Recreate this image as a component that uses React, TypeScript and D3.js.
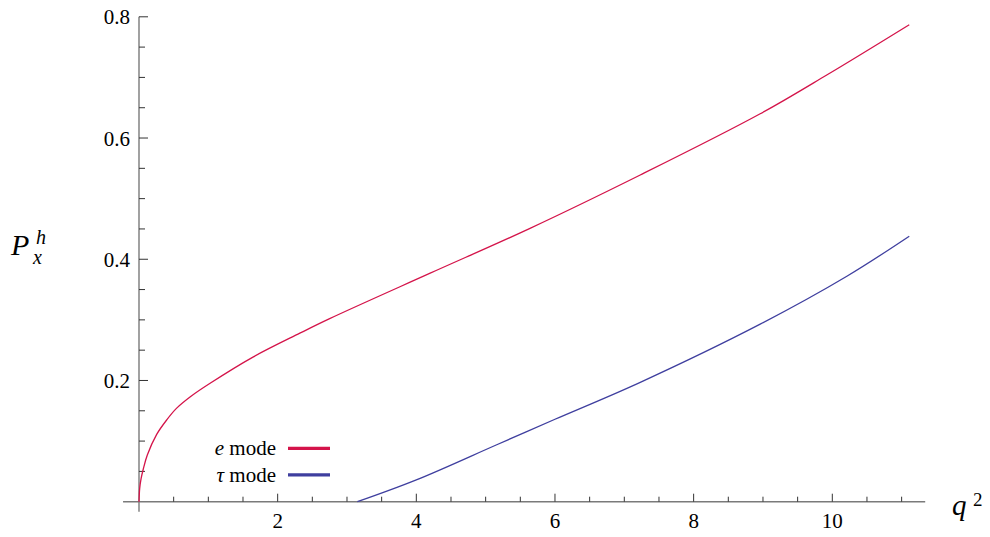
import * as d3 from 'd3';
import React, { useEffect, useRef } from 'react';

// e mode curve
const eX = [0, 0.01, 0.03, 0.062, 0.12, 0.255, 0.4, 0.54, 0.75, 1.02, 1.65, 2.32, 2.75, 4.2, 5.64, 7.23, 8.96, 9.92, 11.11];
const eY = [0, 0.022, 0.038, 0.054, 0.077, 0.111, 0.135, 0.154, 0.174, 0.195, 0.239, 0.278, 0.302, 0.377, 0.451, 0.539, 0.64, 0.704, 0.787];

// tau mode curve
const tauX = [3.15, 4.0, 5.16, 6.0, 7.23, 8.96, 10.21, 11.11];
const tauY = [0, 0.036, 0.094, 0.136, 0.197, 0.293, 0.372, 0.438];

const xTicks = [2, 4, 6, 8, 10];
const yTicks = [0.2, 0.4, 0.6, 0.8];
const legendNames = ['e', 'τ'];

const red = '#d4144a';
const blue = '#3f3f9f';

export default function App() {
  const ref = useRef(null);

  useEffect(() => {
    drawChart();
  }, []);

  function drawChart() {
    const svg = d3.select(ref.current);
    svg.selectAll('*').remove();

    const x = d3.scaleLinear().domain([0, 10]).range([139, 832.3]);
    const y = d3.scaleLinear().domain([0, 0.8]).range([501.7, 16.8]);
    const font = '"Liberation Serif", "Times New Roman", Times, "DejaVu Serif", serif';

    // minor ticks
    const xMinor = d3.range(0.5, 11.01, 0.5).filter(v => Math.abs(v % 2) > 0.01);
    const yMinor = d3.range(0.05, 0.801, 0.05).filter(v => Math.abs(Math.round(v * 100) % 20) > 0.5);

    const g = svg.append('g').attr('font-family', font);

    // axes lines
    g.append('line')
      .attr('x1', x(-0.23)).attr('x2', x(11.34))
      .attr('y1', y(0)).attr('y2', y(0))
      .attr('stroke', '#7a7a7a').attr('stroke-width', 1.4);
    g.append('line')
      .attr('x1', x(0)).attr('x2', x(0))
      .attr('y1', y(0.8)).attr('y2', y(-0.0165))
      .attr('stroke', '#7a7a7a').attr('stroke-width', 1.4);

    // x ticks
    g.selectAll('.xmaj').data(xTicks).enter().append('line')
      .attr('x1', d => x(d)).attr('x2', d => x(d))
      .attr('y1', y(0)).attr('y2', y(0) - 8)
      .attr('stroke', '#333').attr('stroke-width', 1);
    g.selectAll('.xmin').data(xMinor).enter().append('line')
      .attr('x1', d => x(d)).attr('x2', d => x(d))
      .attr('y1', y(0)).attr('y2', y(0) - 5)
      .attr('stroke', '#333').attr('stroke-width', 1);
    g.selectAll('.xlab').data(xTicks).enter().append('text')
      .attr('x', d => x(d)).attr('y', 528)
      .attr('text-anchor', 'middle')
      .attr('font-size', 21)
      .text(d => d);

    // y ticks
    g.selectAll('.ymaj').data(yTicks).enter().append('line')
      .attr('x1', x(0)).attr('x2', x(0) + 9)
      .attr('y1', d => y(d)).attr('y2', d => y(d))
      .attr('stroke', '#333').attr('stroke-width', 1);
    g.selectAll('.ymin').data(yMinor).enter().append('line')
      .attr('x1', x(0)).attr('x2', x(0) + 6)
      .attr('y1', d => y(d)).attr('y2', d => y(d))
      .attr('stroke', '#333').attr('stroke-width', 1);
    g.selectAll('.ylab').data(yTicks).enter().append('text')
      .attr('x', 130).attr('y', d => y(d) + 7.5)
      .attr('text-anchor', 'end')
      .attr('font-size', 21)
      .text(d => d3.format('.1f')(d));

    // curves
    const line = d3.line<number[]>()
      .x(d => x(d[0]))
      .y(d => y(d[1]))
      .curve(d3.curveCatmullRom.alpha(0.5));

    g.append('path')
      .datum(tauX.map((v, i) => [v, tauY[i]]))
      .attr('d', line)
      .attr('fill', 'none').attr('stroke', blue).attr('stroke-width', 1.3);
    g.append('path')
      .datum(eX.map((v, i) => [v, eY[i]]))
      .attr('d', line)
      .attr('fill', 'none').attr('stroke', red).attr('stroke-width', 1.3);

    // legend
    const colors = [red, blue];
    const leg = g.selectAll('.leg').data(legendNames).enter().append('g')
      .attr('transform', (d, i) => 'translate(0,' + (448.3 + i * 26.5) + ')');
    leg.append('line')
      .attr('x1', 288).attr('x2', 330)
      .attr('stroke', (d, i) => colors[i]).attr('stroke-width', 3.2);
    const lt = leg.append('text')
      .attr('x', 276).attr('y', 7)
      .attr('text-anchor', 'end')
      .attr('font-size', 21);
    lt.append('tspan').attr('font-style', 'italic').text(d => d);
    lt.append('tspan').text(' mode');

    // y label
    g.append('text').attr('x', 11).attr('y', 255)
      .attr('font-style', 'italic').attr('font-size', 30).text('P');
    g.append('text').attr('x', 36).attr('y', 244)
      .attr('font-style', 'italic').attr('font-size', 20).text('h');
    g.append('text').attr('x', 33).attr('y', 264)
      .attr('font-style', 'italic').attr('font-size', 20).text('x');

    // x label
    g.append('text').attr('x', 952).attr('y', 515)
      .attr('font-style', 'italic').attr('font-size', 29).text('q');
    g.append('text').attr('x', 973).attr('y', 506)
      .attr('font-size', 19).text('2');
  }

  return (
    <svg ref={ref} width={990} height={537}
      style={{ position: 'absolute', left: 0, top: 0, background: '#fff' }} />
  );
}
